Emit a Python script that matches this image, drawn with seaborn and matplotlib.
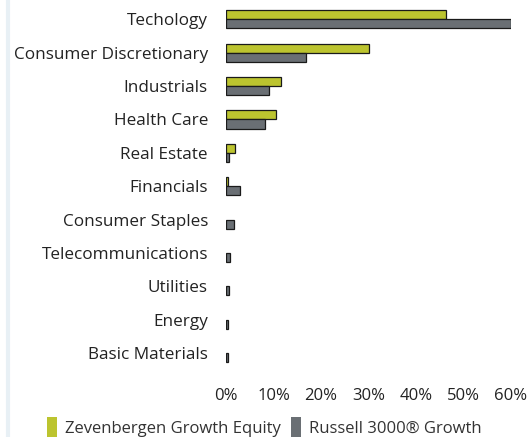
import pandas as pd
import seaborn as sns
import matplotlib.pyplot as plt
from matplotlib.patches import Patch
from matplotlib.lines import Line2D

sectors = ['Techology', 'Consumer Discretionary', 'Industrials', 'Health Care',
           'Real Estate', 'Financials', 'Consumer Staples', 'Telecommunications',
           'Utilities', 'Energy', 'Basic Materials']
fund_name = 'Zevenbergen Growth Equity'
bench_name = 'Russell 3000® Growth'
fund = [46.3, 30.0, 11.6, 10.6, 1.8, 0.5, 0.0, 0.0, 0.0, 0.0, 0.0]
bench = [60.1, 16.9, 9.0, 8.2, 0.7, 2.9, 1.7, 0.9, 0.7, 0.5, 0.5]
xticks = [0, 10, 20, 30, 40, 50, 60]

green = '#bcc42f'
gray = '#6a6f74'

df = pd.DataFrame({
    'sector': sectors * 2,
    'weight': fund + bench,
    'series': [fund_name] * len(sectors) + [bench_name] * len(sectors),
})

sns.set_style('white')
plt.rcParams['font.family'] = ['Open Sans', 'DejaVu Sans']

fig = plt.figure(figsize=(5.29, 4.37), dpi=100)
ax = fig.add_axes([0.4272, 0.154, 0.5388, 0.84])

sns.barplot(data=df, y='sector', x='weight', hue='series', order=sectors,
            palette=[green, gray], saturation=1, width=0.55, orient='h', ax=ax,
            edgecolor='#1a1a1a', linewidth=0.9, legend=False)

# no outline for empty sectors
for p in ax.patches:
    if p.get_width() == 0:
        p.set_visible(False)

ax.set_xlim(0, 60)
ax.set_ylim(10.5, -0.5)
ax.set_xticks(xticks)
ax.set_xticklabels([f'{t}%' for t in xticks])
ax.set_xlabel('')
ax.set_ylabel('')
ax.tick_params(axis='x', length=0, pad=13, labelsize=12, colors='#222222')
ax.tick_params(axis='y', length=0, pad=13, labelsize=12.3, colors='#222222')
for s in ax.spines.values():
    s.set_visible(False)

# light rule down the left edge
fig.add_artist(Line2D([8 / 529, 8 / 529], [0, 1], color='#e8f0f5', lw=3,
                      transform=fig.transFigure))

handles = [Patch(facecolor=green, edgecolor='none'), Patch(facecolor=gray, edgecolor='none')]
fig.legend(handles, [fund_name, bench_name], loc='center', ncol=2,
           bbox_to_anchor=(0.5, 1 - 427 / 437), frameon=False, fontsize=12,
           handlelength=0.6, handleheight=1.4, handletextpad=0.5, columnspacing=0.6,
           labelcolor='#333333')

fig.savefig('out.png', dpi=100)
